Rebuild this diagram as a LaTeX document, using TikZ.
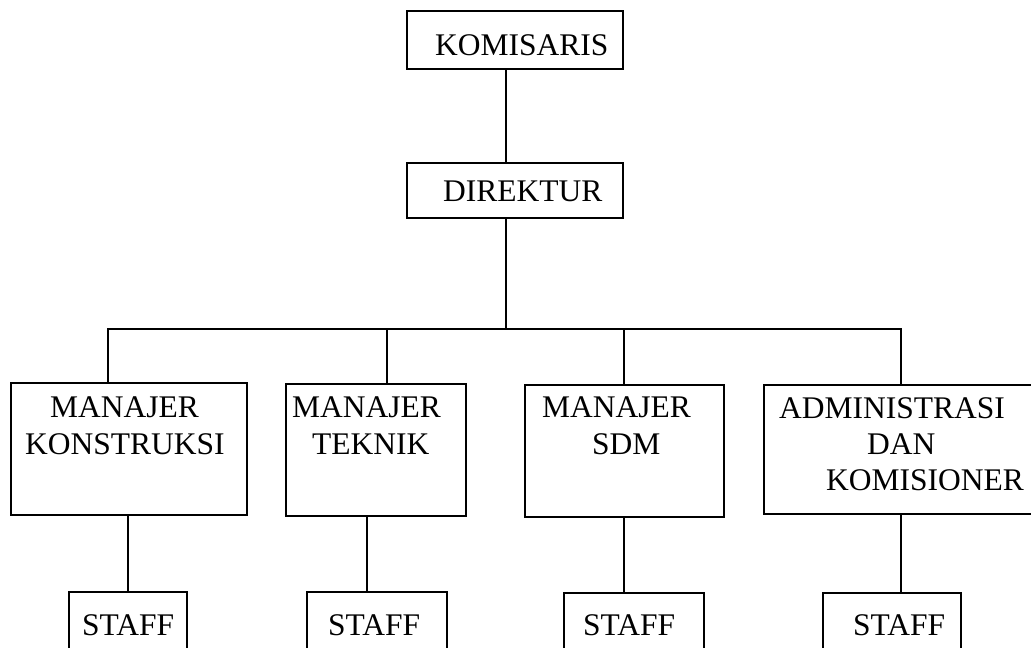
\documentclass[tikz,border=0pt]{standalone}
\usepackage{fontspec}
\setmainfont{Liberation Serif}
\begin{document}
\begin{tikzpicture}[x=1pt,y=-1pt,
  box/.style={draw,line width=1.1pt,rectangle,inner sep=0pt},
  lbl/.style={anchor=base west,inner sep=0pt,font=\fontsize{31.5}{36}\selectfont},
  link/.style={line width=1.1pt}]
\useasboundingbox (0,0) rectangle (1031,648);
% boxes
\node[box,minimum width=216pt,minimum height=58pt] (kom) at (515,40) {};
\node[box,minimum width=216pt,minimum height=55pt] (dir) at (515,190.5) {};
\node[box,minimum width=236pt,minimum height=132pt] (m1) at (129,449) {};
\node[box,minimum width=180pt,minimum height=132pt] (m2) at (376,450) {};
\node[box,minimum width=199pt,minimum height=132pt] (m3) at (624.5,451) {};
\node[box,minimum width=281pt,minimum height=129pt] (m4) at (904.5,449.5) {};
\node[box,minimum width=118pt,minimum height=78pt] (s1) at (128,631) {};
\node[box,minimum width=140pt,minimum height=78pt] (s2) at (377,631) {};
\node[box,minimum width=140pt,minimum height=78pt] (s3) at (634,632) {};
\node[box,minimum width=138pt,minimum height=78pt] (s4) at (892,632) {};
% texts
\node[lbl] (tkom) at (435,55) {KOMISARIS};
\node[lbl] (tdir) at (443,201) {DIREKTUR};
\node[lbl] (t1a) at (50,417) {MANAJER};
\node[lbl] (t1b) at (25,454) {KONSTRUKSI};
\node[lbl] (t2a) at (292,417) {MANAJER};
\node[lbl] (t2b) at (312,454) {TEKNIK};
\node[lbl] (t3a) at (542,417) {MANAJER};
\node[lbl] (t3b) at (592,454) {SDM};
\node[lbl] (t4a) at (779,418) {ADMINISTRASI};
\node[lbl] (t4b) at (867,454) {DAN};
\node[lbl] (t4c) at (826,490) {KOMISIONER};
\node[lbl] (ts1) at (82,635) {STAFF};
\node[lbl] (ts2) at (328,635) {STAFF};
\node[lbl] (ts3) at (583,635) {STAFF};
\node[lbl] (ts4) at (853,635) {STAFF};
% connectors
\coordinate (bus) at (506,329);
\draw[link] ([xshift=-9pt]kom.south) -- ([xshift=-9pt]dir.north);
\draw[link] ([xshift=-9pt]dir.south) -- (bus);
\draw[link] ([xshift=-21pt]m1.north) |- ([xshift=-3.5pt]m4.north |- bus) -- ([xshift=-3.5pt]m4.north);
\draw[link] ([xshift=11pt]m2.north) -- ([xshift=11pt]m2.north |- bus);
\draw[link] ([xshift=-0.5pt]m3.north) -- ([xshift=-0.5pt]m3.north |- bus);
\draw[link] (s1.north) -- (s1.north |- m1.south);
\draw[link] ([xshift=-10pt]s2.north) -- ([xshift=-10pt]s2.north |- m2.south);
\draw[link] ([xshift=-10pt]s3.north) -- ([xshift=-10pt]s3.north |- m3.south);
\draw[link] ([xshift=9pt]s4.north) -- ([xshift=9pt]s4.north |- m4.south);
\end{tikzpicture}
\end{document}
